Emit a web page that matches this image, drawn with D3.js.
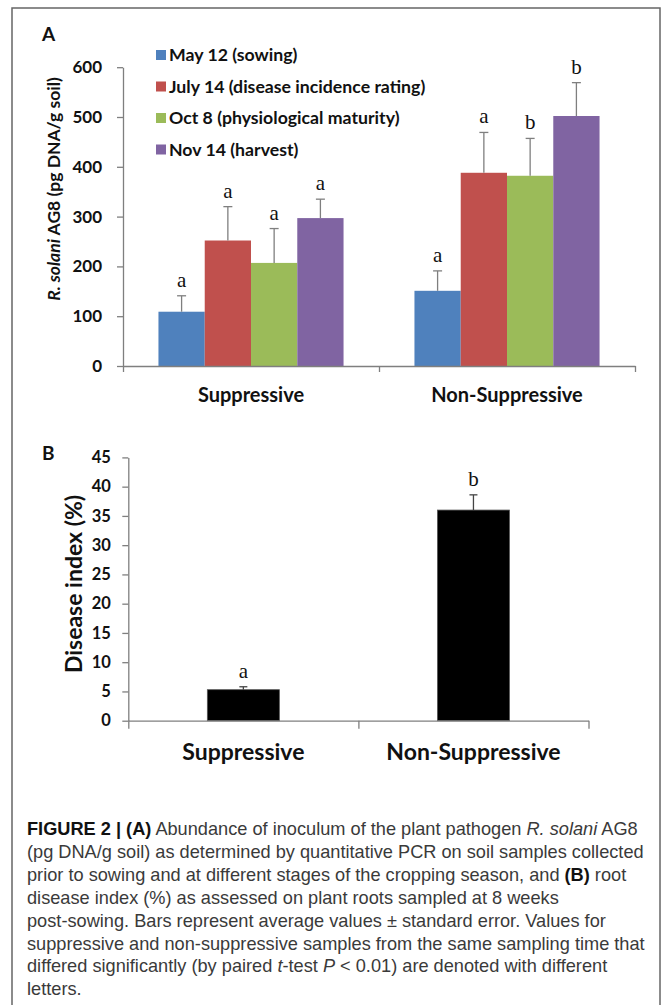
<!DOCTYPE html>
<html>
<head>
<meta charset="utf-8">
<script src="https://cdn.jsdelivr.net/npm/d3@7"></script>
<style>
  body { margin: 0; background: #fff; }
  svg { display: block; }
  .axis path, .axis line { stroke: #7f7f7f; stroke-width: 1.3; }
  .axis text { font-family: Lato, sans-serif; font-weight: bold; fill: #111; }
</style>
</head>
<body>
<svg id="chart"></svg>
<script>
// panel A data
const groups = ["Suppressive", "Non-Suppressive"];
const dates = ["May 12 (sowing)", "July 14 (disease incidence rating)", "Oct 8 (physiological maturity)", "Nov 14 (harvest)"];
const dateColors = ["#4F81BD", "#C0504D", "#9BBB59", "#8064A2"];
const suppressiveMeans = [109, 252, 207, 297];
const suppressiveErr = [32, 68, 69, 38];
const suppressiveLetters = ["a", "a", "a", "a"];
const nonSuppressiveMeans = [151, 388, 382, 502];
const nonSuppressiveErr = [40, 81, 75, 67];
const nonSuppressiveLetters = ["a", "a", "b", "b"];
const yTicksA = [0, 100, 200, 300, 400, 500, 600];

// panel B data
const diseaseIndex = [5.3, 36.0];
const diseaseErr = [0.5, 2.6];
const diseaseLetters = ["a", "b"];
const yTicksB = [0, 5, 10, 15, 20, 25, 30, 35, 40, 45];

const captionLines = [
    [["b", "FIGURE 2 | (A)"], ["", " Abundance of inoculum of the plant pathogen "], ["i", "R. solani"], ["", " AG8"]],
    [["", "(pg DNA/g soil) as determined by quantitative PCR on soil samples collected"]],
    [["", "prior to sowing and at different stages of the cropping season, and "], ["b", "(B)"], ["", " root"]],
    [["", "disease index (%) as assessed on plant roots sampled at 8 weeks"]],
    [["", "post-sowing. Bars represent average values \u00B1 standard error. Values for"]],
    [["", "suppressive and non-suppressive samples from the same sampling time that"]],
    [["", "differed significantly (by paired "], ["i", "t"], ["", "-test "], ["i", "P"], ["", " < 0.01) are denoted with different"]],
    [["", "letters."]]
];

const width = 667, height = 1005;
const svg = d3.select("#chart").attr("width", width).attr("height", height);

// outer frame
svg.append("rect")
    .attr("x", 12).attr("y", 8)
    .attr("width", 648).attr("height", 1010)
    .attr("fill", "none").attr("stroke", "#666").attr("stroke-width", 1.5);

// ---------- panel A ----------
const rowsA = [
    dates.map((d, i) => ({ group: groups[0], date: d, i: i, v: suppressiveMeans[i], e: suppressiveErr[i], l: suppressiveLetters[i] })),
    dates.map((d, i) => ({ group: groups[1], date: d, i: i, v: nonSuppressiveMeans[i], e: nonSuppressiveErr[i], l: nonSuppressiveLetters[i] }))
].flat();

const x0A = d3.scaleBand().domain(groups).range([123, 635]).paddingInner(0.277).paddingOuter(0.1385);
const x1A = d3.scaleBand().domain(dates).range([0, x0A.bandwidth()]);
const yA = d3.scaleLinear().domain([0, 600]).range([366, 67.2]);

const gA = svg.append("g");

gA.selectAll(".barA")
    .data(rowsA)
    .join("rect")
    .attr("class", "barA")
    .attr("x", d => x0A(d.group) + x1A(d.date))
    .attr("y", d => yA(d.v))
    .attr("width", x1A.bandwidth())
    .attr("height", d => yA(0) - yA(d.v))
    .attr("fill", d => dateColors[d.i]);

const errA = gA.selectAll(".errA")
    .data(rowsA)
    .join("g")
    .attr("class", "errA")
    .attr("transform", d => `translate(${x0A(d.group) + x1A(d.date) + x1A.bandwidth() / 2},0)`);
errA.append("line")
    .attr("y1", d => yA(d.v)).attr("y2", d => yA(d.v + d.e))
    .attr("stroke", "#7f7f7f").attr("stroke-width", 1.3);
errA.append("line")
    .attr("x1", -4.5).attr("x2", 4.5)
    .attr("y1", d => yA(d.v + d.e)).attr("y2", d => yA(d.v + d.e))
    .attr("stroke", "#7f7f7f").attr("stroke-width", 1.3);
errA.append("text")
    .attr("y", d => yA(d.v + d.e) - 9)
    .attr("text-anchor", "middle")
    .attr("font-family", "Liberation Serif, serif")
    .attr("font-size", 21)
    .attr("fill", "#111")
    .text(d => d.l);

gA.append("g")
    .attr("class", "axis")
    .attr("transform", "translate(123,0)")
    .call(d3.axisLeft(yA).tickValues(yTicksA).tickSize(6).tickSizeOuter(0).tickPadding(15))
    .selectAll("text").attr("font-size", 17);

// boundary ticks on the category axis
const edgeA = d3.scaleLinear().domain([0, groups.length]).range([123, 635]);
gA.append("g")
    .attr("class", "axis")
    .attr("transform", "translate(0,366)")
    .call(d3.axisBottom(edgeA).tickValues([0, 1, 2]).tickSize(6).tickSizeOuter(0).tickFormat(""));

gA.append("g")
    .attr("class", "axis")
    .attr("transform", "translate(0,366)")
    .call(d3.axisBottom(x0A).tickSize(0).tickPadding(22))
    .call(g => g.select(".domain").remove())
    .selectAll("text").attr("font-size", 20);

gA.append("text")
    .attr("transform", "translate(60,189) rotate(-90)")
    .attr("text-anchor", "middle")
    .attr("font-family", "Lato, sans-serif")
    .attr("font-weight", "bold")
    .attr("font-size", 17.5)
    .attr("fill", "#111")
    .call(t => {
        t.append("tspan").attr("font-style", "italic").text("R. solani");
        t.append("tspan").text(" AG8 (pg DNA/g soil)");
    });

gA.append("text")
    .attr("x", 42).attr("y", 41)
    .attr("font-family", "Lato, sans-serif").attr("font-weight", "bold")
    .attr("font-size", 19).attr("fill", "#111")
    .text("A");

// legend
const legend = gA.selectAll(".legend")
    .data(dates)
    .join("g")
    .attr("class", "legend")
    .attr("transform", (d, i) => `translate(156,${55 + i * 31.5})`);
legend.append("rect")
    .attr("x", 0).attr("y", -5).attr("width", 10).attr("height", 10)
    .attr("fill", (d, i) => dateColors[i]);
legend.append("text")
    .attr("x", 13).attr("y", 6)
    .attr("font-family", "Lato, sans-serif").attr("font-weight", "bold")
    .attr("font-size", 17.7).attr("fill", "#111")
    .text(d => d);

// ---------- panel B ----------
const xB = d3.scaleBand().domain(groups).range([128.3, 588.5]).paddingInner(0.687).paddingOuter(0.3435);
const yB = d3.scaleLinear().domain([0, 45]).range([720.7, 457.4]);
const gB = svg.append("g");

const rowsB = groups.map((g, i) => ({ group: g, v: diseaseIndex[i], e: diseaseErr[i], l: diseaseLetters[i] }));

gB.selectAll(".barB")
    .data(rowsB)
    .join("rect")
    .attr("class", "barB")
    .attr("x", d => xB(d.group))
    .attr("y", d => yB(d.v))
    .attr("width", xB.bandwidth())
    .attr("height", d => yB(0) - yB(d.v))
    .attr("fill", "#000")
    .attr("stroke", "#555").attr("stroke-width", 0.8);

const errB = gB.selectAll(".errB")
    .data(rowsB)
    .join("g")
    .attr("class", "errB")
    .attr("transform", d => `translate(${xB(d.group) + xB.bandwidth() / 2},0)`);
errB.append("line")
    .attr("y1", d => yB(d.v)).attr("y2", d => yB(d.v + d.e))
    .attr("stroke", "#444").attr("stroke-width", 1.3);
errB.append("line")
    .attr("x1", -4).attr("x2", 4)
    .attr("y1", d => yB(d.v + d.e)).attr("y2", d => yB(d.v + d.e))
    .attr("stroke", "#444").attr("stroke-width", 1.3);
errB.append("text")
    .attr("y", d => yB(d.v + d.e) - 9)
    .attr("text-anchor", "middle")
    .attr("font-family", "Liberation Serif, serif")
    .attr("font-size", 21)
    .attr("fill", "#111")
    .text(d => d.l);

gB.append("g")
    .attr("class", "axis")
    .attr("transform", "translate(128.3,0)")
    .call(d3.axisLeft(yB).tickValues(yTicksB).tickSize(6).tickSizeOuter(0).tickPadding(11.5))
    .selectAll("text").attr("font-size", 16.5);

const edgeB = d3.scaleLinear().domain([0, groups.length]).range([128.3, 588.5]);
gB.append("g")
    .attr("class", "axis")
    .attr("transform", "translate(0,720.7)")
    .call(d3.axisBottom(edgeB).tickValues([0, 1, 2]).tickSize(8).tickSizeOuter(0).tickFormat(""));

gB.append("g")
    .attr("class", "axis")
    .attr("transform", "translate(0,720.7)")
    .call(d3.axisBottom(xB).tickSize(0).tickPadding(23))
    .call(g => g.select(".domain").remove())
    .selectAll("text").attr("font-size", 23);

gB.append("text")
    .attr("transform", "translate(81.7,584) rotate(-90)")
    .attr("text-anchor", "middle")
    .attr("font-family", "Lato, sans-serif")
    .attr("font-weight", "bold")
    .attr("font-size", 23)
    .attr("fill", "#111")
    .text("Disease index (%)");

gB.append("text")
    .attr("x", 42).attr("y", 460)
    .attr("font-family", "Lato, sans-serif").attr("font-weight", "bold")
    .attr("font-size", 19).attr("fill", "#111")
    .text("B");

// ---------- caption ----------
const caption = svg.append("g")
    .attr("font-family", "Liberation Sans, Arial, sans-serif")
    .attr("font-size", 18.2)
    .attr("fill", "#3a3a3a");
captionLines.forEach((parts, i) => {
    const t = caption.append("text").attr("x", 27).attr("y", 835 + i * 22.9);
    parts.forEach(p => {
        const s = t.append("tspan").text(p[1]);
        if (p[0] === "b") s.attr("font-weight", "bold").attr("fill", "#111");
        if (p[0] === "i") s.attr("font-style", "italic");
    });
});
</script>
</body>
</html>
